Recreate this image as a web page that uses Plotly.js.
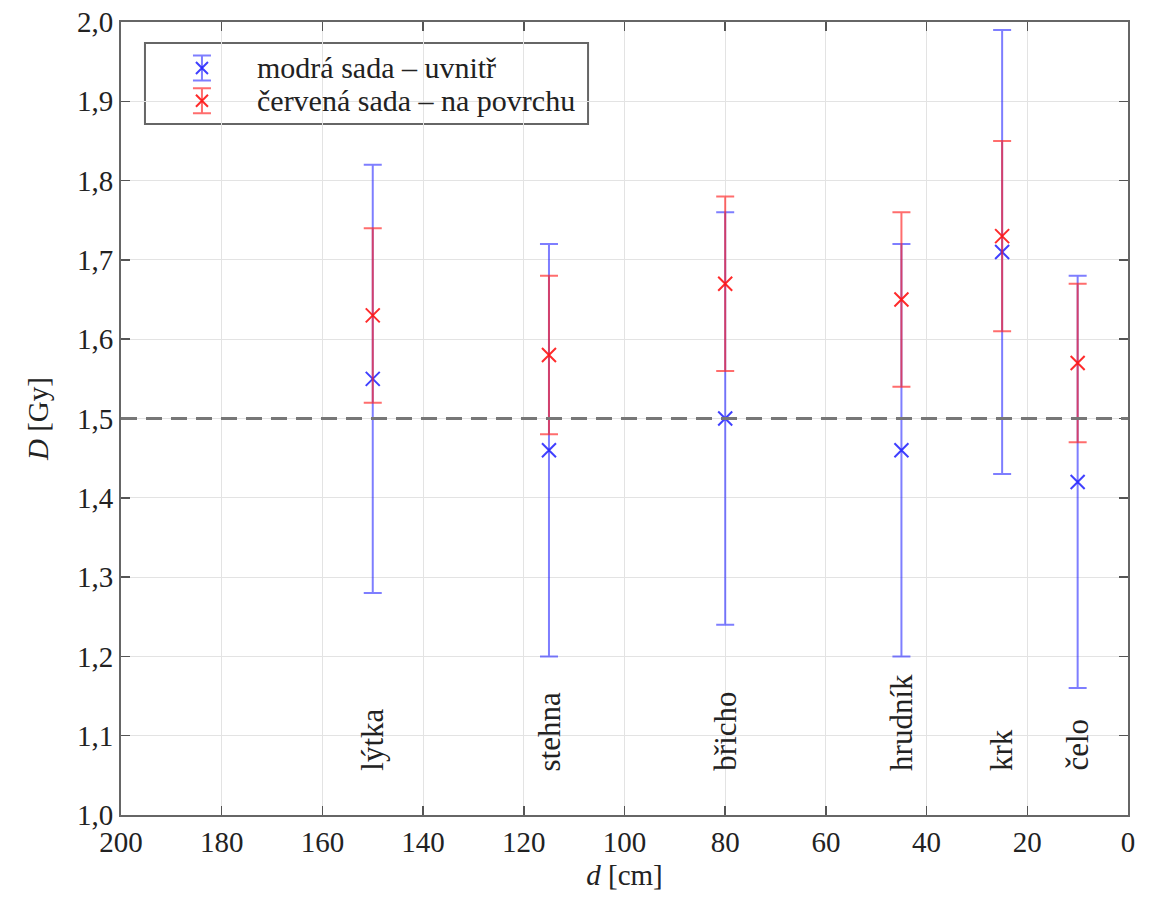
<!DOCTYPE html>
<html>
<head>
<meta charset="utf-8">
<script src="https://cdn.plot.ly/plotly-3.0.1.min.js"></script>
<style>html,body{margin:0;padding:0;background:#fff}#chart{width:1155px;height:905px}</style>
</head>
<body>
<div id="chart"></div>
<script>
// ---- data ----
const positions = [150, 115, 80, 45, 25, 10];
const labels = ["lýtka", "stehna", "břicho", "hrudník", "krk", "čelo"];
const blueValues = [1.55, 1.46, 1.50, 1.46, 1.71, 1.42];
const blueErr = [0.27, 0.26, 0.26, 0.26, 0.28, 0.26];
const redValues = [1.63, 1.58, 1.67, 1.65, 1.73, 1.57];
const redErr = [0.11, 0.10, 0.11, 0.11, 0.12, 0.10];
const seriesNames = ["modrá sada – uvnitř", "červená sada – na povrchu"];
const refLevel = 1.5;
const labelBase = 1.053;

const FONT = "'Liberation Serif', 'DejaVu Serif', serif";
const blueLine = "rgba(40,40,255,0.6)";
const redLine = "rgba(255,30,30,0.65)";
const blueMark = "rgba(30,30,255,0.85)";
const redMark = "rgba(255,20,20,0.9)";

function series(y, err, lc, mc, name) {
  return {
    type: "scatter", mode: "markers", x: positions, y: y, name: name,
    marker: {symbol: "x-thin", size: 14, color: mc, line: {color: mc, width: 2}},
    error_y: {type: "data", array: err, visible: true, color: lc, thickness: 2, width: 9},
    showlegend: false, hoverinfo: "skip"
  };
}

// legend glyphs on an overlay axis in [0,1]
function legendGlyph(yy, lc, mc) {
  return {
    type: "scatter", mode: "markers", x: [0.0804], y: [yy], xaxis: "x2", yaxis: "y2",
    marker: {symbol: "x-thin", size: 12, color: mc, line: {color: mc, width: 2}},
    error_y: {type: "constant", value: 0.0158, visible: true, color: lc, thickness: 2, width: 9},
    showlegend: false, hoverinfo: "skip"
  };
}

const data = [
  series(blueValues, blueErr, blueLine, blueMark, seriesNames[0]),
  series(redValues, redErr, redLine, redMark, seriesNames[1]),
  legendGlyph(0.942, blueLine, blueMark),
  legendGlyph(0.9008, redLine, redMark)
];

const annotations = labels.map((t, i) => ({
  x: positions[i], y: labelBase, xref: "x", yref: "y", text: t, showarrow: false,
  textangle: -90, xanchor: "center", yanchor: "bottom",
  font: {family: FONT, size: 31, color: "#222"}
}));
annotations.push(
  {x: 0.133, y: 0.942, xref: "paper", yref: "paper", text: seriesNames[0], showarrow: false,
   xanchor: "left", yanchor: "middle", font: {family: FONT, size: 30, color: "#222"}},
  {x: 0.133, y: 0.9008, xref: "paper", yref: "paper", text: seriesNames[1], showarrow: false,
   xanchor: "left", yanchor: "middle", font: {family: FONT, size: 30, color: "#222"}}
);

const axisCommon = {
  showline: true, linecolor: "#666", linewidth: 2, mirror: "ticks",
  ticks: "inside", ticklen: 9, tickwidth: 1.5, tickcolor: "#555",
  showgrid: true, gridcolor: "#e3e3e3", gridwidth: 1, zeroline: false,
  tickfont: {family: FONT, size: 29, color: "#222"}
};

const layout = {
  width: 1155, height: 905,
  margin: {l: 121, r: 27, t: 22, b: 90},
  paper_bgcolor: "#fff", plot_bgcolor: "#fff",
  font: {family: FONT, color: "#222"},
  separators: ", ",
  showlegend: false,
  xaxis: Object.assign({}, axisCommon, {
    range: [200, 0], tickvals: [200,180,160,140,120,100,80,60,40,20,0],
    title: {text: "<i>d</i> [cm]", font: {family: FONT, size: 29, color: "#222"}, standoff: 8}
  }),
  yaxis: Object.assign({}, axisCommon, {
    range: [1.0, 2.0], dtick: 0.1, tick0: 1.0, tickformat: ".1f",
    title: {text: "<i>D</i> [Gy]", font: {family: FONT, size: 29, color: "#222"}, standoff: 20}
  }),
  xaxis2: {overlaying: "x", range: [0, 1], visible: false, anchor: "y2"},
  yaxis2: {overlaying: "y", range: [0, 1], visible: false, anchor: "x2"},
  shapes: [
    {type: "line", xref: "x", x0: 200, x1: 0, yref: "y", y0: refLevel, y1: refLevel,
     line: {color: "#777", width: 3, dash: "16px,9px"}, layer: "above"},
    {type: "rect", xref: "paper", yref: "paper", x0: 0.0238, x1: 0.4638, y0: 0.8714, y1: 0.9735,
     line: {color: "#666", width: 2}, fillcolor: "#fff", layer: "between"}
  ],
  annotations: annotations
};

Plotly.newPlot("chart", data, layout, {staticPlot: true, displayModeBar: false});
</script>
</body>
</html>
